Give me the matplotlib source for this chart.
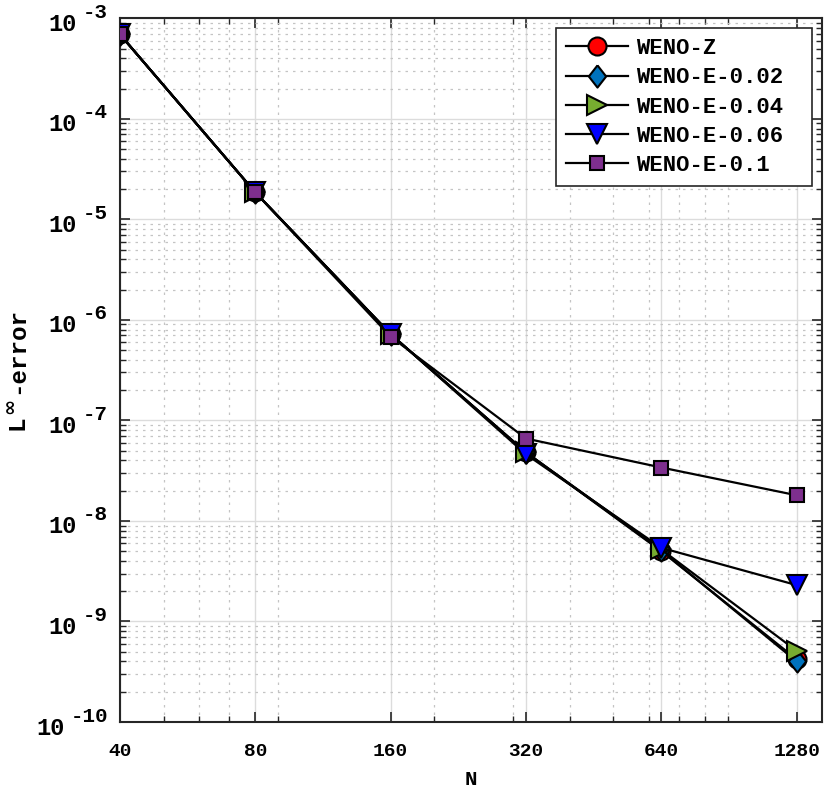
import numpy as np
import matplotlib
matplotlib.use("Agg")
import matplotlib.pyplot as plt
import matplotlib.transforms as mtransforms
from matplotlib.ticker import FixedLocator, NullFormatter, LogLocator, FuncFormatter

N = [40, 80, 160, 320, 640, 1280]
weno_z = [6.9e-4, 1.85e-5, 7.2e-7, 4.8e-8, 5.0e-9, 4.2e-10]
weno_e002 = [6.9e-4, 1.85e-5, 7.2e-7, 4.8e-8, 5.1e-9, 4.0e-10]
weno_e004 = [6.9e-4, 1.85e-5, 7.2e-7, 4.8e-8, 5.2e-9, 5.1e-10]
weno_e006 = [6.9e-4, 1.85e-5, 7.2e-7, 4.6e-8, 5.4e-9, 2.3e-9]
weno_e01 = [6.9e-4, 1.85e-5, 6.8e-7, 6.6e-8, 3.4e-8, 1.8e-8]
labels = ["WENO-Z", "WENO-E-0.02", "WENO-E-0.04", "WENO-E-0.06", "WENO-E-0.1"]
xticks = [40, 80, 160, 320, 640, 1280]
ydecades = [-10, -9, -8, -7, -6, -5, -4, -3]

plt.rcParams['font.family'] = ['Liberation Mono', 'DejaVu Sans']
plt.rcParams['font.weight'] = 'bold'

fig = plt.figure(figsize=(8.3, 7.93), dpi=100)
ax = fig.add_axes([0.1446, 0.0895, 0.8454, 0.8875])

thin_diamond = [(0, 1), (0.78, 0), (0, -1), (-0.78, 0), (0, 1)]
series = [weno_z, weno_e002, weno_e004, weno_e006, weno_e01]
styles = [
    dict(marker='o', color=(1, 0, 0), ms=13),
    dict(marker=thin_diamond, color=(0, 0.447, 0.741), ms=16),
    dict(marker='>', color=(0.466, 0.674, 0.188), ms=14),
    dict(marker='v', color=(0, 0, 1), ms=14),
    dict(marker='s', color=(0.494, 0.184, 0.556), ms=10),
]
for y, lab, st in zip(series, labels, styles):
    ax.plot(N, y, '-', color='black', lw=1.6, marker=st['marker'], ms=st['ms'],
            markerfacecolor=st['color'], markeredgecolor='black', markeredgewidth=1.5,
            label=lab, zorder=3)

ax.set_xscale('log')
ax.set_yscale('log')
ax.set_xlim(40, 1455)
ax.set_ylim(1e-10, 1e-3)
ax.xaxis.set_major_locator(FixedLocator(xticks))
ax.xaxis.set_major_formatter(FuncFormatter(lambda v, p: f"{int(round(v))}"))
ax.xaxis.set_minor_locator(LogLocator(base=10, subs=np.arange(2, 10)))
ax.xaxis.set_minor_formatter(NullFormatter())
ax.yaxis.set_major_locator(FixedLocator([10.0 ** e for e in ydecades]))
ax.yaxis.set_minor_locator(LogLocator(base=10, subs=np.arange(2, 10), numticks=20))
ax.yaxis.set_major_formatter(NullFormatter())
ax.yaxis.set_minor_formatter(NullFormatter())

# y tick labels "10" with raised exponent (MATLAB style)
base_fs, sup_fs = 17, 15
px = 100 / 72.0
trans = mtransforms.blended_transform_factory(ax.transAxes, ax.transData)
sup_right = -12  # pixels left of axis
for e in ydecades:
    s = f"{e}"
    sup_w = len(s) * 0.6 * sup_fs * px
    t1 = mtransforms.offset_copy(trans, fig=fig, x=sup_right, y=6, units='dots')
    ax.text(0, 10.0 ** e, s, transform=t1, ha='right', va='center', fontsize=sup_fs,
            fontweight='bold', clip_on=False)
    t2 = mtransforms.offset_copy(trans, fig=fig, x=sup_right - sup_w - 6, y=-6, units='dots')
    ax.text(0, 10.0 ** e, "10", transform=t2, ha='right', va='center', fontsize=base_fs,
            fontweight='bold', clip_on=False)

ax.grid(True, which='major', color='#dcdcdc', lw=1.0, ls='-')
ax.grid(True, which='minor', color='#c4c4c4', lw=0.9, ls=(0, (2, 4)))
ax.set_axisbelow(True)
ax.tick_params(which='both', direction='in', top=True, right=True, color='#262626')
ax.tick_params(which='major', length=7, width=1.2, labelsize=14, pad=15)
ax.tick_params(which='minor', length=4, width=1.0)
for sp in ax.spines.values():
    sp.set_linewidth(1.5); sp.set_color('#262626')

ax.set_xlabel('N', fontsize=15, labelpad=7, fontweight='bold')

# y label "L^inf-error", built in pieces (rotated), pixel positions from bottom-left
ident = mtransforms.IdentityTransform()
fig.text(23, 363, "L", transform=ident, rotation=90, rotation_mode='anchor',
         ha='left', va='baseline', fontsize=17.5, fontweight='bold')
fig.text(15, 379, "\u221e", transform=ident, rotation=90, rotation_mode='anchor',
         ha='left', va='baseline', fontsize=14, fontweight='bold', family='DejaVu Sans')
fig.text(23, 399, "-error", transform=ident, rotation=90, rotation_mode='anchor',
         ha='left', va='baseline', fontsize=17.5, fontweight='bold')

leg = ax.legend(loc='upper left', bbox_to_anchor=(0.621, 0, 0.3647, 0.9858), mode='expand',
                prop=dict(weight='bold', size=16),
                fancybox=False, edgecolor='#262626', framealpha=1, handlelength=2.8,
                borderpad=0.45, labelspacing=0.37, handletextpad=0.35, borderaxespad=0)
leg.get_frame().set_linewidth(1.2)

fig.savefig('out.png', dpi=100)
